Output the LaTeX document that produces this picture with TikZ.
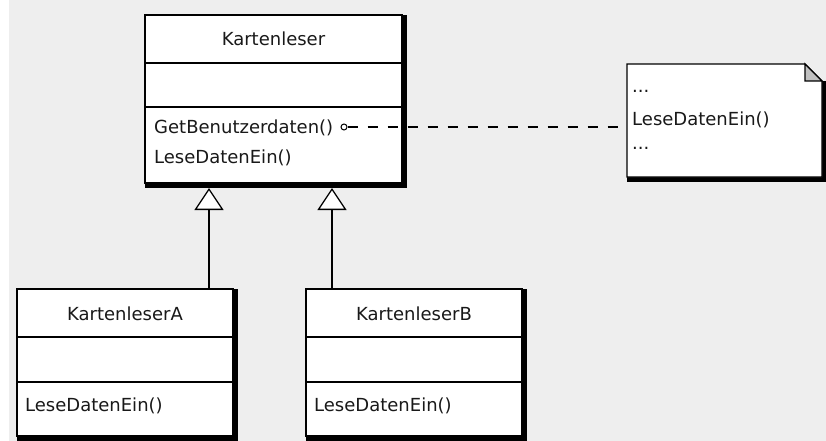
\documentclass[tikz,border=0pt]{standalone}
\usepackage{fontspec}
\setmainfont{DejaVu Sans}
\usetikzlibrary{arrows.meta}
\definecolor{bg}{HTML}{EEEEEE}
\definecolor{fold}{HTML}{C0C0C0}
\newcommand{\umlfont}{\fontsize{18pt}{20pt}\selectfont}
\begin{document}
\begin{tikzpicture}[x=1pt,y=-1pt,
  box/.style={draw=black, line width=1.3pt, fill=white, inner sep=0pt, outer sep=0pt, anchor=north west},
  lbl/.style={font=\umlfont, inner sep=0pt, anchor=base, text=black!90},
  lblw/.style={font=\umlfont, inner sep=0pt, anchor=base west, text=black!90},
  divider/.style={draw=black, line width=1.3pt},
  shadow/.style={fill=black},
  inh/.style={draw=black, line width=1.3pt, -{Triangle[open, length=22pt, width=29pt, fill=white, line width=1.3pt]}},
  dep/.style={draw=black, line width=1.3pt, dash pattern=on 10pt off 10pt}
]
\useasboundingbox (0,0) rectangle (826,441);
\fill[white] (0,0) rectangle (826,441);
\fill[bg] (9,0) rectangle (826,441);

% ---- Kartenleser ----
\node[box, minimum width=257pt, minimum height=168pt] (K) at (145,15) {};
\fill[shadow] (K.north east) rectangle ([shift={(5,5)}]K.south east);
\fill[shadow] (K.south west) rectangle ([shift={(5,5)}]K.south east);
\draw[divider] (K.west |- 0,63) -- (K.east |- 0,63);
\draw[divider] (K.west |- 0,107) -- (K.east |- 0,107);
\node[lbl] (Kname) at (K.north |- 0,46) {Kartenleser};
\node[lblw] (Km1) at (154,133) {GetBenutzerdaten()};
\node[lblw] (Km2) at (154,163) {LeseDatenEin()};

% ---- KartenleserA ----
\node[box, minimum width=216pt, minimum height=147pt] (A) at (17,289) {};
\fill[shadow] (A.north east) rectangle ([shift={(5,5)}]A.south east);
\fill[shadow] (A.south west) rectangle ([shift={(5,5)}]A.south east);
\draw[divider] (A.west |- 0,337) -- (A.east |- 0,337);
\draw[divider] (A.west |- 0,382) -- (A.east |- 0,382);
\node[lbl] (Aname) at (A.north |- 0,320) {KartenleserA};
\node[lblw] (Am1) at (25,411) {LeseDatenEin()};

% ---- KartenleserB ----
\node[box, minimum width=216pt, minimum height=147pt] (B) at (306,289) {};
\fill[shadow] (B.north east) rectangle ([shift={(5,5)}]B.south east);
\fill[shadow] (B.south west) rectangle ([shift={(5,5)}]B.south east);
\draw[divider] (B.west |- 0,337) -- (B.east |- 0,337);
\draw[divider] (B.west |- 0,382) -- (B.east |- 0,382);
\node[lbl] (Bname) at (B.north |- 0,320) {KartenleserB};
\node[lblw] (Bm1) at (314,411) {LeseDatenEin()};

% ---- Note ----
\node[inner sep=0pt, outer sep=0pt, minimum width=195pt, minimum height=113pt, anchor=north west] (N) at (627,64) {};
\fill[shadow] (N.south west) rectangle ([shift={(5,5)}]N.south east);
\fill[shadow] ([shift={(0,17)}]N.north east) rectangle ([shift={(5,5)}]N.south east);
\filldraw[fill=white, draw=black, line width=1.3pt]
  (N.north west) -- ([shift={(-17,0)}]N.north east) -- ([shift={(0,17)}]N.north east)
  -- (N.south east) -- (N.south west) -- cycle;
\filldraw[fill=fold, draw=black, line width=1.3pt, line join=miter]
  ([shift={(-17,0)}]N.north east) -- ([shift={(-17,17)}]N.north east) -- ([shift={(0,17)}]N.north east) -- cycle;
\node[lblw] (N1) at (632,93) {...};
\node[lblw] (N2) at (632,125) {LeseDatenEin()};
\node[lblw] (N3) at (632,149) {...};

% ---- interface circle and dependency ----
\node[circle, draw=black, line width=1pt, minimum size=6pt, inner sep=0pt] (c) at (344,127) {};
\draw[dep] (c.east) -- (N.west |- c.east);

% ---- inheritance ----
\coordinate (KA) at (209,188);
\coordinate (KB) at (332,188);
\draw[inh] (A.north -| KA) -- (KA);
\draw[inh] (B.north -| KB) -- (KB);
\end{tikzpicture}
\end{document}
